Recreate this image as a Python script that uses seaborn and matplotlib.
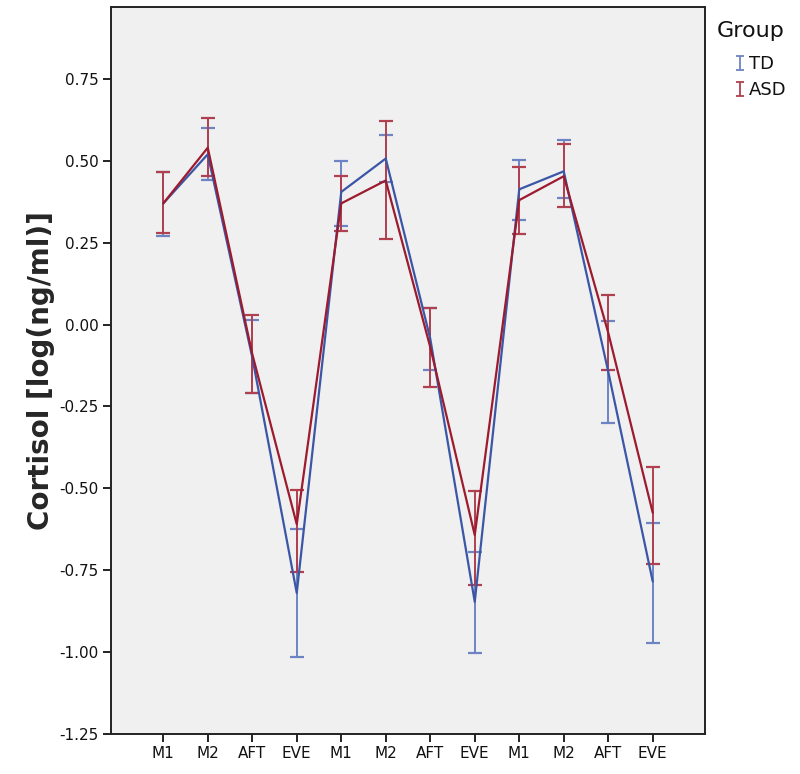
"""
Cortisol profile (log ng/ml) over three sampling days, TD vs ASD.
Means with 95% CI error bars, SPSS-style look.
"""

import numpy as np
import pandas as pd
import matplotlib
matplotlib.use("Agg")
import matplotlib.pyplot as plt
from matplotlib.lines import Line2D
from matplotlib.path import Path
import seaborn as sns

sns.set_theme(style="white")
plt.rcParams["font.family"] = ["DejaVu Sans"]

# ── Data ──────────────────────────────────────────────────────────────────────
time_labels = ["M1", "M2", "AFT", "EVE"] * 3
groups = ["TD", "ASD"]

td_mean = [0.37, 0.52, -0.10, -0.82, 0.405, 0.507, -0.043, -0.847, 0.413, 0.468, -0.144, -0.785]
td_low = [0.27, 0.44, -0.21, -1.015, 0.30, 0.436, -0.138, -1.003, 0.32, 0.385, -0.30, -0.973]
td_high = [0.465, 0.60, 0.013, -0.625, 0.50, 0.578, 0.052, -0.695, 0.502, 0.563, 0.012, -0.607]

asd_mean = [0.37, 0.54, -0.09, -0.61, 0.37, 0.44, -0.069, -0.643, 0.38, 0.453, -0.025, -0.575]
asd_low = [0.28, 0.455, -0.21, -0.755, 0.285, 0.26, -0.19, -0.795, 0.275, 0.36, -0.138, -0.73]
asd_high = [0.465, 0.63, 0.028, -0.505, 0.453, 0.623, 0.052, -0.51, 0.48, 0.55, 0.089, -0.435]

y_ticks = [0.75, 0.5, 0.25, 0.0, -0.25, -0.5, -0.75, -1.0, -1.25]

line_colors = {"TD": "#3b56a6", "ASD": "#9c1b2e"}
bar_colors = {"TD": "#6d84c4", "ASD": "#b0404f"}

pos = np.arange(len(time_labels))
df = pd.DataFrame({
    "pos": np.concatenate([pos, pos]),
    "mean": td_mean + asd_mean,
    "low": td_low + asd_low,
    "high": td_high + asd_high,
    "Group": ["TD"] * len(pos) + ["ASD"] * len(pos),
})

# ── Plot ──────────────────────────────────────────────────────────────────────
fig = plt.figure(figsize=(8, 7.74), dpi=100)
ax = fig.add_axes([0.139, 0.052, 0.742, 0.939])
ax.set_facecolor("#f0f0f0")

for g in groups:
    sub = df[df["Group"] == g]
    ax.errorbar(sub["pos"], sub["mean"],
                yerr=[sub["mean"] - sub["low"], sub["high"] - sub["mean"]],
                fmt="none", ecolor=bar_colors[g], elinewidth=1.4,
                capsize=5, capthick=1.6, zorder=2)

sns.lineplot(data=df, x="pos", y="mean", hue="Group", hue_order=groups,
             palette=line_colors, linewidth=1.6, ax=ax, legend=False,
             sort=False, zorder=3)

ax.set_xlim(-1.17, 12.17)
ax.set_ylim(-1.25, 0.97)
ax.set_xticks(pos)
ax.set_xticklabels(time_labels, fontsize=11)
ax.set_yticks(y_ticks)
ax.set_yticklabels([f"{v:.2f}" for v in y_ticks], fontsize=11)
ax.set_xlabel("")
ax.set_ylabel("Cortisol [log(ng/ml)]", fontsize=20, fontweight="bold",
              labelpad=3)

for sp in ax.spines.values():
    sp.set_color("#222222")
    sp.set_linewidth(1.4)
ax.tick_params(axis="both", which="both", direction="out", length=6,
               width=1.4, color="#222222", left=True, bottom=True,
               top=False, right=False, labelcolor="#111111", pad=3)

# legend: title as plain text, entries with I-beam markers
fig.text(717 / 800, 1 - 21 / 774, "Group", fontsize=16, color="#111111",
         ha="left", va="top")
ibeam = Path([(-0.6, -1), (0.6, -1), (0, -1), (0, 1), (-0.6, 1), (0.6, 1)],
             [Path.MOVETO, Path.LINETO, Path.MOVETO, Path.LINETO,
              Path.MOVETO, Path.LINETO])
handles = [Line2D([], [], linestyle="none", marker=ibeam, markersize=9.5,
                  markerfacecolor="none", markeredgecolor=bar_colors[g],
                  markeredgewidth=1.3, label=g) for g in groups]
fig.legend(handles=handles, loc="upper left",
           bbox_to_anchor=(733 / 800, 1 - 55 / 774), frameon=False,
           fontsize=13, handlelength=0.8, handletextpad=0.1,
           labelspacing=0.45, borderpad=0, borderaxespad=0,
           labelcolor="#111111")

fig.savefig("out.png", dpi=100)
